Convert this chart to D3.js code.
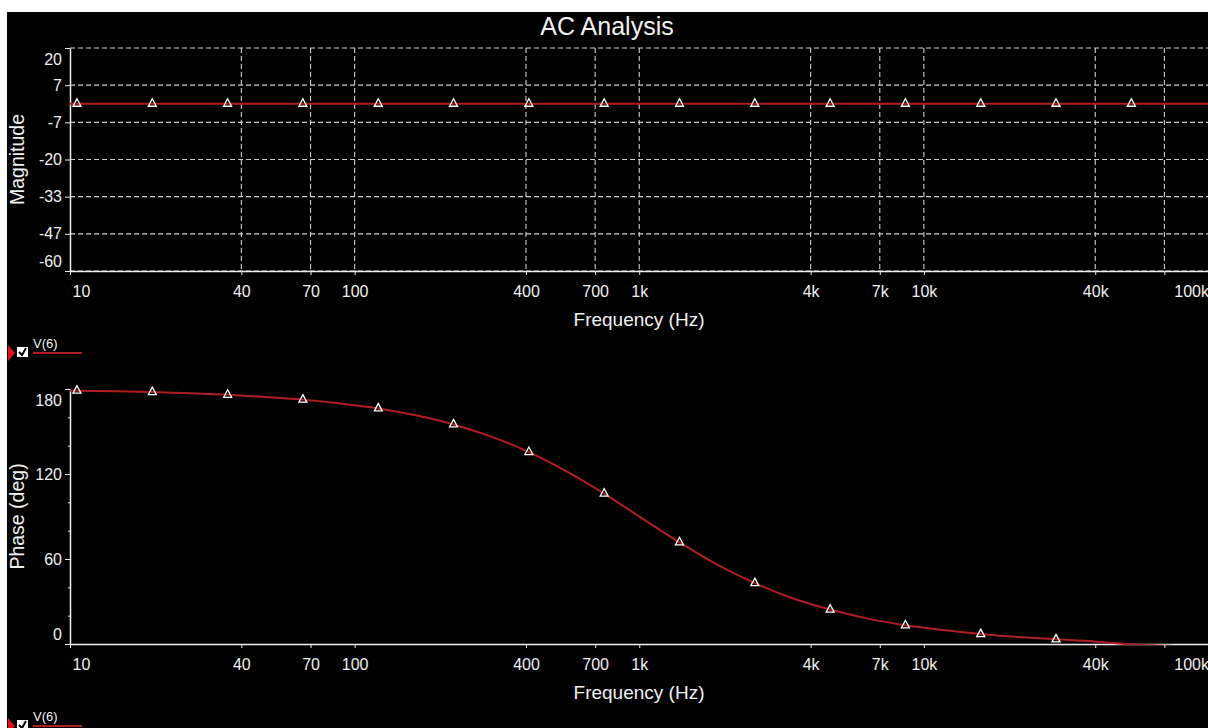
<!DOCTYPE html>
<html>
<head>
<meta charset="utf-8">
<script src="https://cdn.jsdelivr.net/npm/d3@7"></script>
<style>
  body { margin: 0; background: #fff; }
  svg { display: block; font-family: "Liberation Sans", Arial, sans-serif; }
  .tick text { fill: #f0f0f0; font-size: 16px; }
  .axis path, .axis line { stroke: #f0f0f0; }
  .grid line { stroke: #d0d0d0; stroke-dasharray: 5,3; stroke-width: 1.1; }
  .trace { fill: none; stroke: #b01e23; stroke-width: 2; }
  .marker { fill: none; stroke: #ffffff; stroke-width: 1.3; }
  .label { fill: #f0f0f0; }
</style>
</head>
<body>
<svg id="graph" width="1208" height="728"></svg>
<script>
// x axis ticks (Hz)
var freqTicks = [10, 40, 70, 100, 400, 700, 1000, 4000, 7000, 10000, 40000, 70000, 100000]
var freqLabels = ["10", "40", "70", "100", "400", "700", "1k", "4k", "7k", "10k", "40k", "", "100k"]

// y axis ticks
var magTicks = [20, 6.667, -6.667, -20, -33.333, -46.667, -60]
var phaseMajor = [0, 60, 120, 180]
var phaseMinor = [20, 40, 80, 100, 140, 160]

// V(6) sweep
var freqs = [10, 10.58, 14.35, 19.46, 26.4, 35.8, 48.5, 65.8, 89.2, 121.1, 164, 222.6, 302, 409.5, 555, 753,
             1021, 1385, 1878, 2547, 3454, 4684, 6352, 8614, 11680, 15843, 21490, 29130, 39500, 53580, 72700, 100000]
var magnitude = [0, 0, 0, 0, 0, 0, 0, 0, 0, 0, 0, 0, 0, 0, 0, 0,
                 0, 0, 0, 0, 0, 0, 0, 0, 0, 0, 0, 0, 0, 0, 0, 0]
var phase = [178.9, 178.8, 178.4, 177.8, 177.0, 175.9, 174.4, 172.5, 169.8, 166.3, 161.4, 155.0, 146.4, 135.5, 121.9, 106.2,
             88.8, 71.8, 56.1, 43.0, 32.3, 24.3, 17.9, 13.2, 9.8, 7.0, 4.9, 3.3, 1.8, -0.3, -1.2, -2.5]
// every second sample carries a marker
var markerIdx = [1, 3, 5, 7, 9, 11, 13, 15, 17, 19, 21, 23, 25, 27, 29]

var left = 70, right = 1208.5

var svg = d3.select("#graph")

// black panel with the thin white border at top/left
svg.append("rect").attr("x", 7).attr("y", 12).attr("width", 1201).attr("height", 716).attr("fill", "#000")

svg.append("text")
    .attr("class", "label")
    .attr("x", 607).attr("y", 35)
    .attr("text-anchor", "middle")
    .style("font-size", "25px")
    .text("AC Analysis")

var xScale = d3.scaleLog().domain([10, 100000]).range([left, right])

// plain hyphen minus like the original, not the unicode one
var fmt = d => d3.format(".0f")(d).replace("\u2212", "-")

function plot(opt) {
    var g = svg.append("g")
    var y = d3.scaleLinear().domain(opt.domain).range([opt.bottom, opt.top])

    var clipId = "clip" + opt.name
    svg.append("clipPath").attr("id", clipId)
        .append("rect")
        .attr("x", left).attr("y", opt.top - 4)
        .attr("width", right - left).attr("height", opt.bottom - opt.top + 5)

    if (opt.grid) {
        var grid = g.append("g").attr("class", "grid")
        grid.selectAll(".h")
            .data(opt.ticks)
            .enter().append("line")
            .attr("x1", left).attr("x2", right)
            .attr("y1", d => y(d)).attr("y2", d => y(d))
        grid.selectAll(".v")
            .data(freqTicks.slice(1, -1))
            .enter().append("line")
            .attr("x1", d => xScale(d)).attr("x2", d => xScale(d))
            .attr("y1", opt.top).attr("y2", opt.bottom)
    }

    // x axis
    var xa = g.append("g")
        .attr("class", "axis")
        .attr("transform", "translate(0," + opt.bottom + ")")
        .call(d3.axisBottom(xScale)
            .tickValues(freqTicks)
            .tickFormat((d, i) => freqLabels[i])
            .tickSize(4).tickSizeOuter(0).tickPadding(11))
    xa.select(".domain").attr("stroke-width", 1.5)
    xa.selectAll(".tick text").filter((d, i) => i == 0).attr("text-anchor", "start").attr("dx", 2)
    xa.selectAll(".tick text").filter((d, i) => i == freqTicks.length - 1).attr("text-anchor", "end")

    // y axis
    if (opt.minor) {
        g.append("g")
            .attr("class", "axis")
            .attr("transform", "translate(" + left + ",0)")
            .call(d3.axisLeft(y).tickValues(opt.minor).tickFormat("").tickSize(2).tickSizeOuter(0))
    }
    var ya = g.append("g")
        .attr("class", "axis")
        .attr("transform", "translate(" + left + ",0)")
        .call(d3.axisLeft(y)
            .tickValues(opt.ticks)
            .tickFormat(fmt)
            .tickSize(5).tickSizeOuter(0).tickPadding(3))
    ya.select(".domain").attr("stroke-width", 1.5)
    // end labels are kept inside the axis span
    ya.selectAll(".tick text").filter(d => d == opt.domain[1]).attr("y", 11)
    ya.selectAll(".tick text").filter(d => d == opt.domain[0]).attr("y", -10)

    svg.append("text")
        .attr("class", "label")
        .attr("transform", "translate(24," + (opt.top + opt.bottom) / 2 + ") rotate(-90)")
        .attr("text-anchor", "middle")
        .style("font-size", "19.5px")
        .text(opt.title)

    svg.append("text")
        .attr("class", "label")
        .attr("x", 639).attr("y", opt.bottom + 55)
        .attr("text-anchor", "middle")
        .style("font-size", "19px")
        .text("Frequency (Hz)")

    // trace
    var line = d3.line()
        .x((d, i) => xScale(freqs[i]))
        .y(d => y(d))
        .curve(d3.curveMonotoneX)

    g.append("path")
        .datum(opt.values)
        .attr("class", "trace")
        .attr("clip-path", "url(#" + clipId + ")")
        .attr("d", line)

    var pts = markerIdx.filter(i => opt.values[i] >= opt.domain[0] && opt.values[i] <= opt.domain[1])
    g.selectAll(".marker")
        .data(pts)
        .enter().append("path")
        .attr("class", "marker")
        .attr("transform", i => "translate(" + xScale(freqs[i]) + "," + y(opt.values[i]) + ")")
        .attr("d", "M0,-5L4,2.5L-4,2.5Z")

    // legend entry under the plot
    var ly = opt.bottom + 82
    var lg = svg.append("g")
    lg.append("path").attr("d", "M8," + (ly - 8) + "L15," + ly + "L8," + (ly + 8) + "Z").attr("fill", "#e0101a")
    lg.append("rect").attr("x", 17).attr("y", ly - 6).attr("width", 11).attr("height", 10).attr("fill", "#fff")
    lg.append("path").attr("d", "M19," + (ly - 1) + "L22," + (ly + 2) + "L26," + (ly - 5))
        .attr("fill", "none").attr("stroke", "#000").attr("stroke-width", 2)
    lg.append("text").attr("class", "label").attr("x", 33).attr("y", ly - 5)
        .style("font-size", "13px").text("V(6)")
    lg.append("line").attr("x1", 33).attr("x2", 82).attr("y1", ly).attr("y2", ly)
        .attr("stroke", "#b01e23").attr("stroke-width", 2)
}

plot({ name: "mag", top: 48, bottom: 271, domain: [-60, 20], ticks: magTicks, grid: true,
       title: "Magnitude", values: magnitude })
plot({ name: "phase", top: 389, bottom: 644, domain: [0, 180], ticks: phaseMajor, minor: phaseMinor, grid: false,
       title: "Phase (deg)", values: phase })
</script>
</body>
</html>
